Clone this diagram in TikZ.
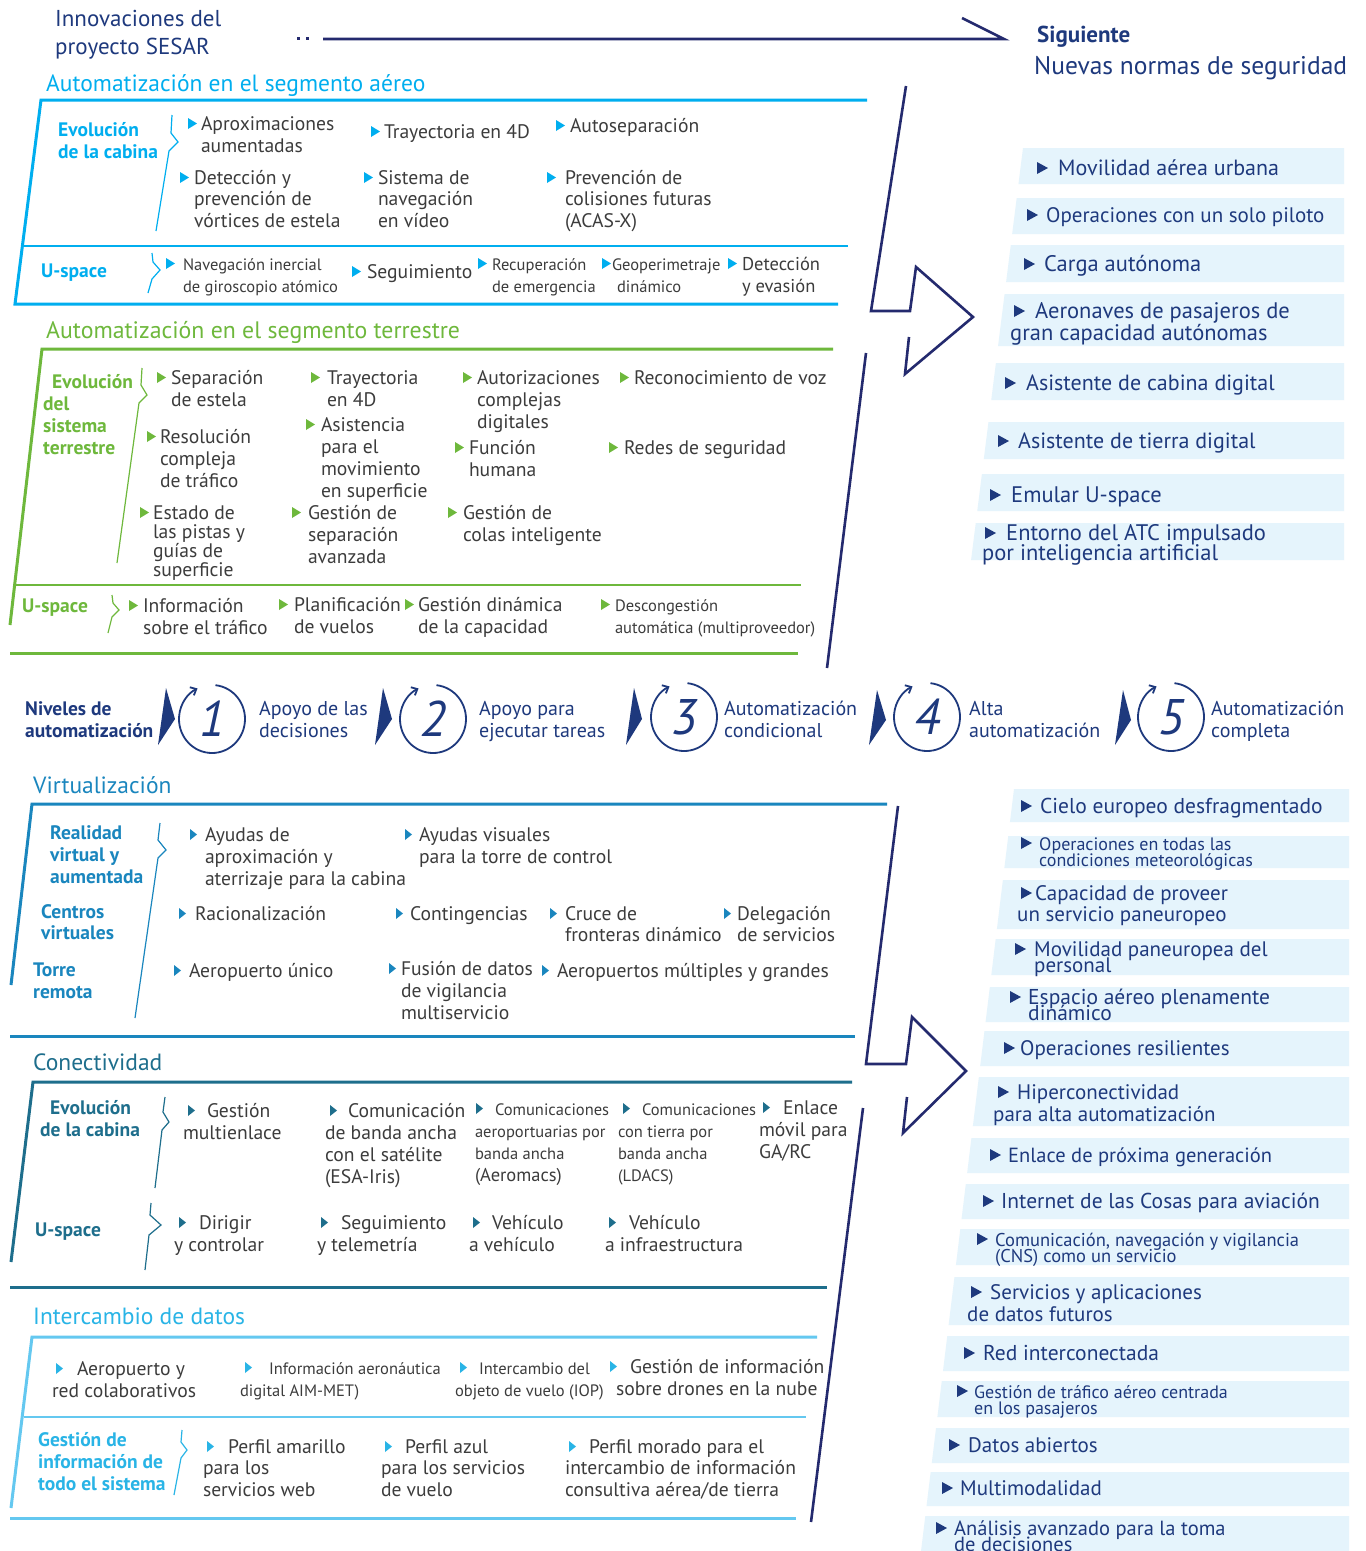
\documentclass[tikz,border=0pt]{standalone}
\usepackage{fontspec}
\setmainfont{PT Sans}
\usetikzlibrary{arrows.meta}
\definecolor{navy}{RGB}{30,57,125}
\definecolor{arrc}{RGB}{36,42,110}
\definecolor{cyanA}{RGB}{0,174,239}
\definecolor{grn}{RGB}{110,184,60}
\definecolor{virt}{RGB}{26,134,190}
\definecolor{conn}{RGB}{30,110,140}
\definecolor{inter}{RGB}{41,180,230}
\definecolor{interl}{RGB}{100,200,240}
\definecolor{boxc}{RGB}{229,244,252}
\definecolor{bodyc}{RGB}{60,60,60}
\newcommand\fsz[2]{\fontsize{#1}{#2}\selectfont\lineskiplimit=-100pt\lineskip=0pt}
\newcommand\Rs{\rule{0pt}{26pt}}
\newcommand\triA[3]{\fill[#1] (#2,#3-1) -- ++(0,-11) -- ++(9,5.5) -- cycle;}
\newcommand\triB[3]{\fill[#1] (#2,#3-1) -- ++(0,-11) -- ++(7,5.5) -- cycle;}
\newcommand\triC[2]{\fill[navy] (#1,#2-1) -- ++(0,-12) -- ++(11,6) -- cycle;}
\newcommand\rboxA[2]{\fill[boxc] ({1023-0.126*(#1-148)},#1) -- (1344,#1) -- (1344,#2) -- ({1023-0.126*(#2-148)},#2) -- cycle;}
\newcommand\rboxB[2]{\fill[boxc] ({1014-0.122*(#1-789)},#1) -- (1349,#1) -- (1349,#2) -- ({1014-0.122*(#2-789)},#2) -- cycle;}
\newcommand\lvl[4]{%
  \draw[navy, line width=1.8pt, -{Straight Barb[length=5pt,width=9pt]}] (#2,#3) ++(-84:33 and 34) arc[start angle=-84,end angle=244,x radius=33,y radius=34];
  \node[numst] (#1) at (#2,#3) {#4};}
\newcommand\ltri[4]{\fill[navy] (#1,#2) -- (#3,#4) -- ({#1-8},745) -- cycle;}
\tikzset{
  tx/.style={anchor=north west, yshift=26pt, inner sep=0pt, outer sep=0pt, align=left, text=bodyc, font=\fsz{19.6}{22}},
  smf/.style={font=\fsz{16.5}{22}},
  lbl/.style={anchor=north west, yshift=26pt, inner sep=0pt, align=left, font=\bfseries\fsz{19.5}{22}},
  ttl/.style={anchor=base west, inner sep=0pt, font=\fsz{23.5}{26}},
  rl/.style={anchor=north west, yshift=26pt, inner sep=0pt, align=left, text=navy, font=\fsz{21}{22}},
  rls/.style={font=\fsz{18}{16}},
  frm/.style={line width=3pt, line join=miter},
  brc/.style={line width=1.2pt},
  numst/.style={inner sep=0pt, text=navy, font=\itshape\fsz{50}{50}},
  bigarr/.style={draw=arrc, line width=2.6pt, line join=miter},
  lvt/.style={anchor=north west, yshift=26pt, inner sep=0pt, align=left, text=navy, font=\fsz{20}{22}},
}
\begin{document}
\begin{tikzpicture}[x=1pt,y=-1pt]
\useasboundingbox[fill=white] (0,0) rectangle (1366,1551);

% ---------------- header
\node[anchor=north west, yshift=26pt, inner sep=0pt, align=left, text=navy, font=\fsz{23}{28}] (hd) at (55,26) {\Rs Innovaciones del\\proyecto SESAR};
\fill[arrc] (297,36.5) rectangle (300,39.5);
\fill[arrc] (306,36.5) rectangle (309,39.5);
\draw[arrc, line width=2.6pt, line join=miter] (962,18) -- (1004,39) -- (323,39);
\node[anchor=base west, inner sep=0pt, text=navy, font=\bfseries\fsz{23}{24}] (sig) at (1037,42) {Siguiente};
\node[anchor=base west, inner sep=0pt, text=navy, font=\fsz{25.5}{26}] (nns) at (1034,74) {Nuevas normas de seguridad};

% ---------------- big arrows
\draw[bigarr] (906,86) -- (871,311) -- (910,311) -- (916,267) -- (973,317) -- (905,374) -- (909,337);
\draw[bigarr] (866,353) -- (827,668);
\draw[bigarr] (898,806) -- (866,1064) -- (906,1064) -- (912,1017) -- (966,1071) -- (903,1133) -- (907,1097);
\draw[bigarr] (863,1108) -- (811,1522);

% ---------------- aereo
\node[ttl, text=cyanA] (tA) at (46,91) {Automatización en el segmento aéreo};
\draw[cyanA, frm] (867,100) -- (41,100) -- (15,304) -- (838,304);
\draw[cyanA, line width=2.5pt] (24,246) -- (848,246);
\draw[cyanA, brc] (172,115) -- (171,133) -- (178,142) -- (169,151) -- (156,231);
\draw[cyanA, brc] (152,253) -- (153,262) -- (160,270) -- (152,279) -- (148,293);
\node[lbl, text=cyanA] (lA1) at (58,136) {\Rs Evolución\\de la cabina};
\node[lbl, text=cyanA] (lA2) at (41,277) {\Rs U-space};
\triA{cyanA}{188}{130} \node[tx] (a1) at (201,130) {\Rs Aproximaciones\\aumentadas};
\triA{cyanA}{371}{138} \node[tx] (a2) at (384,138) {\Rs Trayectoria en 4D};
\triA{cyanA}{556}{132} \node[tx] (a3) at (570,132) {\Rs Autoseparación};
\triA{cyanA}{180}{184} \node[tx, font=\fsz{19.6}{21.5}] (a4) at (194,184) {\Rs Detección y\\prevención de\\vórtices de estela};
\triA{cyanA}{364}{184} \node[tx, font=\fsz{19.6}{21.5}] (a5) at (378,184) {\Rs Sistema de\\navegación\\en vídeo};
\triA{cyanA}{547}{184} \node[tx, font=\fsz{19.6}{21.5}] (a6) at (565,184) {\Rs Prevención de\\colisiones futuras\\(ACAS-X)};
\triA{cyanA}{166}{270} \node[tx, smf] (a7) at (183,270) {\Rs Navegación inercial\\de giroscopio atómico};
\triA{cyanA}{352}{278} \node[tx] (a8) at (367,278) {\Rs Seguimiento};
\triA{cyanA}{478}{270} \node[tx, smf] (a9) at (492,270) {\Rs Recuperación\\de emergencia};
\triA{cyanA}{602}{270} \node[tx, smf] (a10) at (612,270) {\Rs Geoperimetraje\\\hspace*{5pt}dinámico};
\triA{cyanA}{728}{270} \node[tx, font=\fsz{18.5}{22}] (a11) at (742,270) {\Rs Detección\\y evasión};

% ---------------- terrestre
\node[ttl, text=grn, font=\fsz{23.8}{26}] (tT) at (46,338) {Automatización en el segmento terrestre};
\draw[grn, frm] (833,349) -- (42,349) -- (10,625);
\draw[grn, frm] (10,653) -- (798,653);
\draw[grn, line width=2pt] (15,585) -- (801,585);
\draw[grn, brc] (142,368) -- (141,385) -- (147,395) -- (139,403) -- (117,563);
\draw[grn, brc] (112,595) -- (113,603) -- (119,610) -- (112,617) -- (108,633);
\node[lbl, text=grn] (lT1) at (52,388) {\Rs Evolución};
\node[lbl, text=grn] (lT2) at (43,410) {\Rs del\\sistema\\terrestre};
\node[lbl, text=grn] (lT3) at (22,612) {\Rs U-space};
\triA{grn}{157}{384} \node[tx] (t1) at (171,384) {\Rs Separación\\de estela};
\triA{grn}{311}{384} \node[tx] (t2) at (327,384) {\Rs Trayectoria\\en 4D};
\triA{grn}{463}{384} \node[tx] (t3) at (477,384) {\Rs Autorizaciones\\complejas\\digitales};
\triA{grn}{620}{384} \node[tx] (t4) at (634,384) {\Rs Reconocimiento de voz};
\triA{grn}{147}{443} \node[tx] (t5) at (160,443) {\Rs Resolución\\compleja\\de tráfico};
\triA{grn}{306}{431} \node[tx] (t6) at (321,431) {\Rs Asistencia\\para el\\movimiento\\en superficie};
\triA{grn}{455}{454} \node[tx] (t7) at (469,454) {\Rs Función\\humana};
\triA{grn}{609}{454} \node[tx] (t8) at (624,454) {\Rs Redes de seguridad};
\triA{grn}{140}{519} \node[tx, font=\fsz{19.6}{19}] (t9) at (153,519) {\Rs Estado de\\las pistas y\\guías de\\superficie};
\triA{grn}{292}{519} \node[tx] (t10) at (308,519) {\Rs Gestión de\\separación\\avanzada};
\triA{grn}{448}{519} \node[tx] (t11) at (463,519) {\Rs Gestión de\\colas inteligente};
\triA{grn}{129}{612} \node[tx] (t12) at (143,612) {\Rs Información\\sobre el tráfico};
\triA{grn}{279}{611} \node[tx] (t13) at (294,611) {\Rs Planificación\\de vuelos};
\triA{grn}{405}{611} \node[tx] (t14) at (418,611) {\Rs Gestión dinámica\\de la capacidad};
\triA{grn}{601}{611} \node[tx, smf] (t15) at (615,611) {\Rs Descongestión\\automática (multiproveedor)};

% ---------------- right top list
\rboxA{148}{184} \rboxA{198}{234} \rboxA{245}{282} \rboxA{294}{346}
\rboxA{363}{400} \rboxA{422}{459} \rboxA{474}{511} \rboxA{523}{560}
\triC{1037}{175} \node[rl, font=\fsz{22}{22}] (r1) at (1058,175) {\Rs Movilidad aérea urbana};
\triC{1027}{222} \node[rl] (r2) at (1046,222) {\Rs Operaciones con un solo piloto};
\triC{1024}{271} \node[rl, font=\fsz{22.5}{22}] (r3) at (1044,271) {\Rs Carga autónoma};
\triC{1014}{318} \node[rl, font=\fsz{22.5}{22}] (r4) at (1010,318) {\Rs\hspace*{25pt}Aeronaves de pasajeros de\\gran capacidad autónomas};
\triC{1005}{390} \node[rl, font=\fsz{22}{22}] (r5) at (1026,390) {\Rs Asistente de cabina digital};
\triC{998}{448} \node[rl, font=\fsz{22}{22}] (r6) at (1018,448) {\Rs Asistente de tierra digital};
\triC{990}{502} \node[rl, font=\fsz{22.5}{22}] (r7) at (1011,502) {\Rs Emular U-space};
\triC{985}{540} \node[rl, font=\fsz{22.5}{20}] (r8) at (982,540) {\Rs\hspace*{24pt}Entorno del ATC impulsado\\por inteligencia artificial};

% ---------------- levels
\node[lbl, text=navy] (niv) at (25,715) {\Rs Niveles de\\automatización};
\ltri{166}{688}{175}{719}
\ltri{383}{688}{392}{719}
\ltri{634}{688}{642}{719}
\ltri{877}{690}{886}{720}
\ltri{1123}{690}{1131}{720}
\lvl{c1}{212}{719}{1}
\lvl{c2}{433}{719}{2}
\lvl{c3}{684}{717}{3}
\lvl{c4}{927}{717}{4}
\lvl{c5}{1171}{717}{5}
\node[lvt] (v1) at (259,715) {\Rs Apoyo de las\\decisiones};
\node[lvt] (v2) at (479,715) {\Rs Apoyo para\\ejecutar tareas};
\node[lvt] (v3) at (724,715) {\Rs Automatización\\condicional};
\node[lvt] (v4) at (969,715) {\Rs Alta\\automatización};
\node[lvt] (v5) at (1211,715) {\Rs Automatización\\completa};

% ---------------- virtualizacion
\node[ttl, text=virt] (tV) at (33,793) {Virtualización};
\draw[virt, frm] (887,804) -- (32,804) -- (11,985);
\draw[virt, frm] (10,1036) -- (855,1036);
\draw[virt, brc] (160,823) -- (158,840) -- (166,850) -- (158,858) -- (135,1018);
\node[lbl, text=virt] (lV1) at (50,839) {\Rs Realidad\\virtual y\\aumentada};
\node[lbl, text=virt, font=\bfseries\fsz{19.5}{21}] (lV2) at (41,918) {\Rs Centros\\virtuales};
\node[lbl, text=virt] (lV3) at (33,976) {\Rs Torre\\remota};
\triB{virt}{190}{841} \node[tx] (w1) at (205,841) {\Rs Ayudas de\\aproximación y\\aterrizaje para la cabina};
\triB{virt}{405}{841} \node[tx] (w2) at (419,841) {\Rs Ayudas visuales\\para la torre de control};
\triB{virt}{179}{920} \node[tx] (w3) at (195,920) {\Rs Racionalización};
\triB{virt}{396}{920} \node[tx] (w4) at (410,920) {\Rs Contingencias};
\triB{virt}{550}{920} \node[tx, font=\fsz{19.6}{21}] (w5) at (565,920) {\Rs Cruce de\\fronteras dinámico};
\triB{virt}{724}{920} \node[tx, font=\fsz{19.6}{21}] (w6) at (737,920) {\Rs Delegación\\de servicios};
\triB{virt}{174}{977} \node[tx] (w7) at (189,977) {\Rs Aeropuerto único};
\triB{virt}{389}{975} \node[tx] (w8) at (401,975) {\Rs Fusión de datos\\de vigilancia\\multiservicio};
\triB{virt}{542}{977} \node[tx] (w9) at (557,977) {\Rs Aeropuertos múltiples y grandes};

% ---------------- conectividad
\node[ttl, text=conn] (tC) at (33,1070) {Conectividad};
\draw[conn, frm] (852,1082) -- (33,1082) -- (11,1262);
\draw[conn, frm] (10,1287) -- (827,1287);
\draw[conn, brc] (165,1097) -- (163,1112) -- (169,1122) -- (162,1130) -- (155,1188);
\draw[conn, brc] (151,1203) -- (150,1215) -- (161,1225) -- (149,1235) -- (145,1270);
\node[lbl, text=conn] (lC1) at (50,1114) {\Rs Evolución};
\node[lbl, text=conn] (lC2) at (40,1136) {\Rs de la cabina};
\node[lbl, text=conn] (lC3) at (35,1236) {\Rs U-space};
\triB{conn}{188}{1117} \node[tx] (k1) at (183,1117) {\Rs\hspace*{24pt}Gestión\\multienlace};
\triB{conn}{330}{1117} \node[tx] (k2) at (325,1117) {\Rs\hspace*{23pt}Comunicación\\de banda ancha\\con el satélite\\(ESA-Iris)};
\triB{conn}{476}{1115} \node[tx, font=\fsz{16.5}{22}] (k3) at (475,1115) {\Rs\hspace*{20pt}Comunicaciones\\aeroportuarias por\\banda ancha\\{\fsz{18.5}{22}(Aeromacs)}};
\triB{conn}{623}{1115} \node[tx, font=\fsz{16.5}{22}] (k4) at (618,1115) {\Rs\hspace*{24pt}Comunicaciones\\con tierra por\\banda ancha\\(LDACS)};
\triB{conn}{763}{1114} \node[tx] (k5) at (759,1114) {\Rs\hspace*{24pt}Enlace\\móvil para\\GA/RC};
\triB{conn}{179}{1229} \node[tx] (k6) at (174,1229) {\Rs\hspace*{25pt}Dirigir\\y controlar};
\triB{conn}{321}{1229} \node[tx] (k7) at (317,1229) {\Rs\hspace*{24pt}Seguimiento\\y telemetría};
\triB{conn}{473}{1229} \node[tx] (k8) at (469,1229) {\Rs\hspace*{23pt}Vehículo\\a vehículo};
\triB{conn}{609}{1229} \node[tx] (k9) at (605,1229) {\Rs\hspace*{24pt}Vehículo\\a infraestructura};

% ---------------- intercambio
\node[ttl, text=inter] (tI) at (33,1324) {Intercambio de datos};
\draw[interl, frm] (817,1337) -- (32,1337) -- (11,1508);
\draw[interl, line width=2.5pt] (24,1417) -- (806,1417);
\draw[interl, frm] (10,1518) -- (796,1518);
\draw[inter, brc] (182,1430) -- (181,1442) -- (187,1450) -- (181,1458) -- (174,1495);
\node[lbl, text=inter] (lI1) at (38,1446) {\Rs Gestión de\\información de\\todo el sistema};
\triB{inter}{56}{1375} \node[tx] (i1) at (52,1375) {\Rs\hspace*{25pt}Aeropuerto y\\red colaborativos};
\triB{inter}{245}{1374} \node[tx, font=\fsz{16.5}{22}] (i2) at (240,1374) {\Rs\hspace*{29pt}Información aeronáutica\\digital AIM-MET)};
\triB{inter}{460}{1374} \node[tx, font=\fsz{16.5}{22}] (i3) at (455,1374) {\Rs\hspace*{24pt}Intercambio del\\objeto de vuelo (IOP)};
\triB{inter}{610}{1373} \node[tx] (i4) at (616,1373) {\Rs\hspace*{14pt}Gestión de información\\sobre drones en la nube};
\triB{inter}{207}{1453} \node[tx, font=\fsz{19.6}{21.5}] (i5) at (203,1453) {\Rs\hspace*{25pt}Perfil amarillo\\para los\\servicios web};
\triB{inter}{385}{1453} \node[tx, font=\fsz{19.6}{21.5}] (i6) at (381,1453) {\Rs\hspace*{24pt}Perfil azul\\para los servicios\\de vuelo};
\triB{inter}{569}{1453} \node[tx, font=\fsz{19.6}{21.5}] (i7) at (565,1453) {\Rs\hspace*{24pt}Perfil morado para el\\intercambio de información\\consultiva aérea/de tierra};

% ---------------- right bottom list
\rboxB{789}{822} \rboxB{836}{868} \rboxB{880}{929} \rboxB{939}{975}
\rboxB{987}{1022} \rboxB{1031}{1066} \rboxB{1077}{1126} \rboxB{1138}{1173}
\rboxB{1184}{1219} \rboxB{1229}{1265} \rboxB{1277}{1325} \rboxB{1336}{1371}
\rboxB{1381}{1417} \rboxB{1428}{1463} \rboxB{1472}{1506} \rboxB{1516}{1551}
\triC{1021}{813} \node[rl, font=\fsz{21.5}{22}] (b1) at (1040,813) {\Rs Cielo europeo desfragmentado};
\triC{1021}{850} \node[rl, rls] (b2) at (1039,850) {\Rs Operaciones en todas las\\condiciones meteorológicas};
\triC{1021}{900} \node[rl, font=\fsz{21}{21}] (b3) at (1017,900) {\Rs\hspace*{18pt}Capacidad de proveer\\un servicio paneuropeo};
\triC{1015}{956} \node[rl, font=\fsz{21}{16.5}] (b4) at (1034,956) {\Rs Movilidad paneuropea del\\personal};
\triC{1010}{1004} \node[rl, font=\fsz{21.5}{16.5}] (b5) at (1028,1004) {\Rs Espacio aéreo plenamente\\dinámico};
\triC{1004}{1055} \node[rl] (b6) at (1020,1055) {\Rs Operaciones resilientes};
\triC{998}{1099} \node[rl] (b7) at (993,1099) {\Rs\hspace*{24pt}Hiperconectividad\\para alta automatización};
\triC{990}{1162} \node[rl, font=\fsz{20.5}{22}] (b8) at (1008,1162) {\Rs Enlace de próxima generación};
\triC{983}{1208} \node[rl, font=\fsz{21.5}{22}] (b9) at (1001,1208) {\Rs Internet de las Cosas para aviación};
\triC{977}{1246} \node[rl, font=\fsz{18.5}{16}] (b10) at (995,1246) {\Rs Comunicación, navegación y vigilancia\\(CNS) como un servicio};
\triC{971}{1299} \node[rl] (b11) at (967,1299) {\Rs\hspace*{23pt}Servicios y aplicaciones\\de datos futuros};
\triC{964}{1360} \node[rl, font=\fsz{21.5}{22}] (b12) at (983,1360) {\Rs Red interconectada};
\triC{957}{1398} \node[rl, rls] (b13) at (974,1398) {\Rs Gestión de tráfico aéreo centrada\\en los pasajeros};
\triC{949}{1452} \node[rl] (b14) at (968,1452) {\Rs Datos abiertos};
\triC{942}{1495} \node[rl] (b15) at (960,1495) {\Rs Multimodalidad};
\triC{936}{1535} \node[rl, font=\fsz{20.5}{16}] (b16) at (954,1535) {\Rs Análisis avanzado para la toma\\de decisiones};
\end{tikzpicture}
\end{document}
